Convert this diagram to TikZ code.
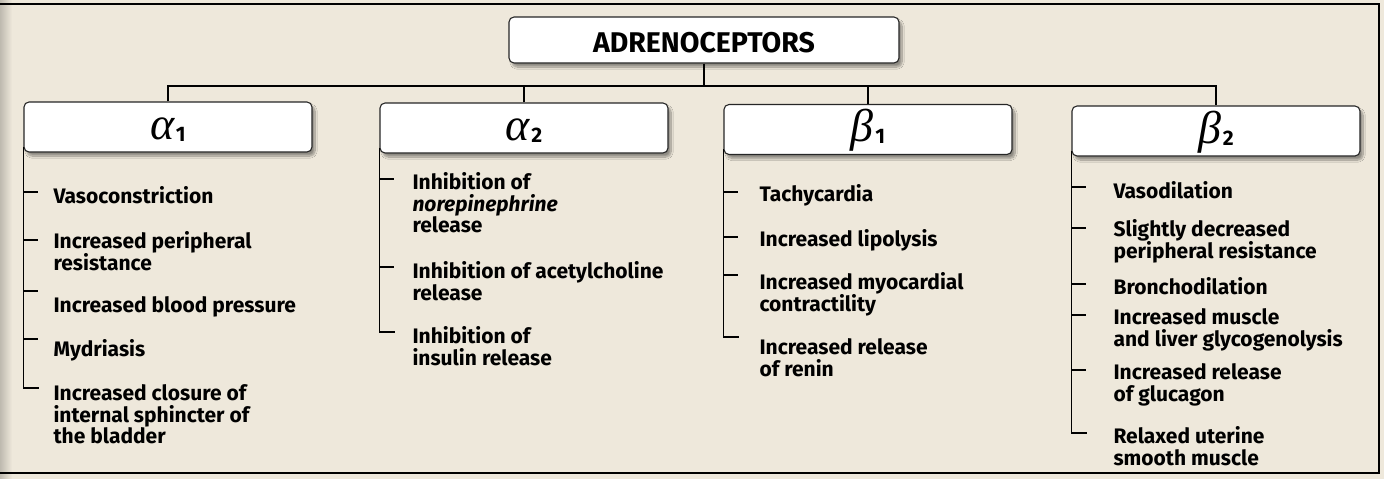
\documentclass[tikz,border=0pt]{standalone}
\usepackage{fontspec}
\setmainfont{Fira Sans}
\newfontfamily\greekfont{Liberation Serif}
\usetikzlibrary{shadows.blur}
\definecolor{paper}{RGB}{238,232,219}
\newcommand{\rtype}[2]{{\greekfont\itshape #1}\kern1.5pt\raisebox{-2pt}{\fontsize{21}{21}\selectfont\bfseries #2}}

\begin{document}
\begin{tikzpicture}[x=1pt, y=-1pt, line width=1.1pt]
	\tikzstyle{hub}    = [draw=black!85, fill=white, rounded corners=5pt, minimum width=390pt, minimum height=46pt, text height=25pt, text depth=0pt, blur shadow={shadow xshift=3pt, shadow yshift=-4pt, shadow blur steps=10, shadow opacity=40}, font=\fontsize{28.5}{28.5}\selectfont\bfseries]
	\tikzstyle{kind}   = [hub, minimum width=288pt, minimum height=50pt, text height=24pt, font=\fontsize{46}{46}\selectfont]
	\tikzstyle{effect} = [anchor=north west, align=left, inner sep=0pt, font=\fontsize{21}{21.7}\selectfont\bfseries]
	
	\fill[paper] (0,0) rectangle (1384,479);
	\shade[left color=black!20!paper, right color=paper] (0,0) rectangle (12,479);
	\useasboundingbox (0,0) rectangle (1384,479);
	\draw[line width=1.3pt] (0,4) -- (1379,4) -- (1379,473) -- (0,473);
	
	\node[hub]		at (704, 40)		(adr)	{ADRENOCEPTORS};
	\node[kind]		at (168, 127)		(a1)	{\rtype{α}{1}};
	\node[kind]		at (524, 128)		(a2)	{\rtype{α}{2}};
	\node[kind]		at (868, 129.5)		(b1)	{\rtype{β}{1}};
	\node[kind]		at (1216, 131)		(b2)	{\rtype{β}{2}};
	\coordinate		(bus)	at (704, 86);
	
	% alpha 1
	\node[effect]	at (53, 186)		(e11)	{Vasoconstriction};
	\node[effect]	at (53, 231)		(e12)	{Increased peripheral\\resistance};
	\node[effect]	at (53, 296)		(e13)	{Increased blood pressure};
	\node[effect]	at (53, 339)		(e14)	{Mydriasis};
	\node[effect]	at (53, 384)		(e15)	{Increased closure of\\internal sphincter of\\the bladder};
	% alpha 2
	\node[effect]	at (412, 172)		(e21)	{Inhibition of\\\textit{norepinephrine}\\release};
	\node[effect]	at (412, 261)		(e22)	{Inhibition of acetylcholine\\release};
	\node[effect]	at (412, 326)		(e23)	{Inhibition of\\insulin release};
	% beta 1
	\node[effect]	at (759, 184)		(e31)	{Tachycardia};
	\node[effect]	at (759, 229)		(e32)	{Increased lipolysis};
	\node[effect]	at (759, 272)		(e33)	{Increased myocardial\\contractility};
	\node[effect]	at (759, 338)		(e34)	{Increased release\\of renin};
	% beta 2
	\node[effect]	at (1113, 181)		(e41)	{Vasodilation};
	\node[effect]	at (1113, 219)		(e42)	{Slightly decreased\\peripheral resistance};
	\node[effect]	at (1113, 277)		(e43)	{Bronchodilation};
	\node[effect]	at (1113, 308)		(e44)	{Increased muscle\\and liver glycogenolysis};
	\node[effect]	at (1113, 363)		(e45)	{Increased release\\of glucagon};
	\node[effect]	at (1113, 426)		(e46)	{Relaxed uterine\\smooth muscle};
	
	\coordinate		(a1end)	at (39, 388);
	\coordinate		(a2end)	at (395, 332);
	\coordinate		(b1end)	at (739, 337);
	\coordinate		(b2end)	at (1087, 433);
	
	\draw (adr.south) -- (bus);
	\draw (a1.north) |- (bus) -| (b2.north);
	\draw (a2.north) -- (a2.north |- bus);
	\draw (b1.north) -- (b1.north |- bus);
	
	\draw ([yshift=6pt]a1.south west) |- (a1end);
	\draw ([yshift=6pt]a2.south west) |- (a2end);
	\draw ([yshift=6pt]b1.south west) |- (b1end);
	\draw ([yshift=6pt]b2.south west) |- (b2end);
	\foreach \ty in {192,240,291,339} \draw (a1.south west |- 0,\ty) -- ++(15,0);
	\foreach \ty in {179,267} \draw (a2.south west |- 0,\ty) -- ++(15,0);
	\foreach \ty in {192,237,275} \draw (b1.south west |- 0,\ty) -- ++(15,0);
	\foreach \ty in {187,228,284,315,370} \draw (b2.south west |- 0,\ty) -- ++(15,0);
\end{tikzpicture}
\end{document}
